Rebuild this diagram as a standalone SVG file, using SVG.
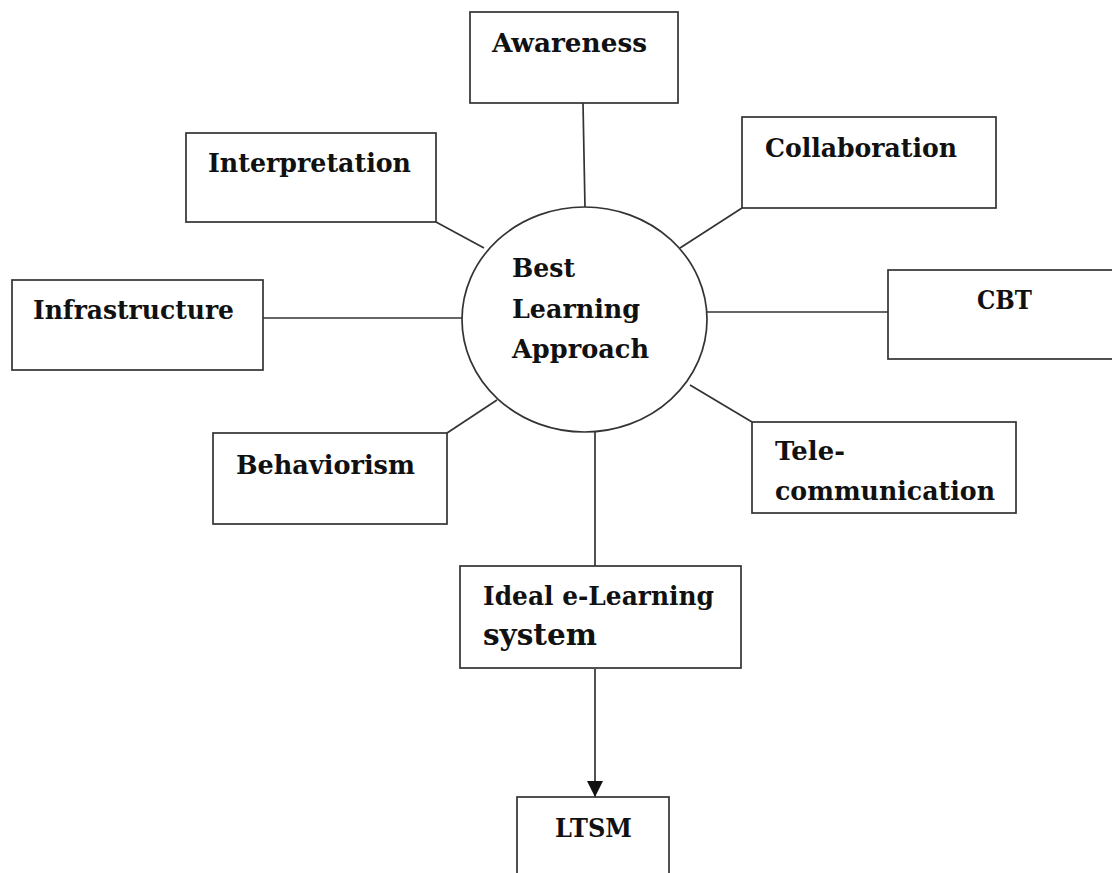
<svg xmlns="http://www.w3.org/2000/svg" width="1112" height="873" viewBox="0 0 1112 873">
<defs>
<style>
.box{fill:#fff;stroke:#333;stroke-width:1.7}
.t{font-family:"DejaVu Serif","Liberation Serif",serif;font-weight:bold;font-size:26px;fill:#111}
.c{stroke:#333;stroke-width:1.7;fill:none}
</style>
<marker id="arr" viewBox="0 0 16 17" refX="16" refY="8" markerWidth="16" markerHeight="17" markerUnits="userSpaceOnUse" orient="auto">
<path d="M0,0 L16,8 L0,16 Z" fill="#111"/>
</marker>
</defs>
<rect width="1112" height="873" fill="#fff"/>
<g id="connectors">
<line class="c" x1="583" y1="103" x2="585" y2="208"/>
<line class="c" x1="742" y1="208" x2="680" y2="248"/>
<line class="c" x1="436" y1="222" x2="484" y2="248"/>
<line class="c" x1="263" y1="318" x2="462" y2="318"/>
<line class="c" x1="707" y1="312" x2="888" y2="312"/>
<line class="c" x1="447" y1="433" x2="497" y2="400"/>
<line class="c" x1="752" y1="422" x2="690" y2="385"/>
<line class="c" x1="595" y1="431" x2="595" y2="566"/>
<line class="c" x1="595" y1="669" x2="595" y2="797" marker-end="url(#arr)"/>
</g>
<g id="center">
<ellipse class="box" cx="584.5" cy="319.5" rx="122.5" ry="112.5"/>
<text class="t" x="512" y="277" textLength="63" lengthAdjust="spacingAndGlyphs">Best</text>
<text class="t" x="512" y="318" textLength="128" lengthAdjust="spacingAndGlyphs">Learning</text>
<text class="t" x="512" y="358" textLength="137" lengthAdjust="spacingAndGlyphs">Approach</text>
</g>
<g id="awareness">
<rect class="box" x="470" y="12" width="208" height="91"/>
<text class="t" x="492" y="52" textLength="155" lengthAdjust="spacingAndGlyphs">Awareness</text>
</g>
<g id="collaboration">
<rect class="box" x="742" y="117" width="254" height="91"/>
<text class="t" x="765" y="157" textLength="192" lengthAdjust="spacingAndGlyphs">Collaboration</text>
</g>
<g id="interpretation">
<rect class="box" x="186" y="133" width="250" height="89"/>
<text class="t" x="208" y="172" textLength="203" lengthAdjust="spacingAndGlyphs">Interpretation</text>
</g>
<g id="infrastructure">
<rect class="box" x="12" y="280" width="251" height="90"/>
<text class="t" x="33" y="319" textLength="201" lengthAdjust="spacingAndGlyphs">Infrastructure</text>
</g>
<g id="cbt">
<rect class="box" x="888" y="270" width="230" height="89"/>
<text class="t" x="977" y="309" textLength="55" lengthAdjust="spacingAndGlyphs">CBT</text>
</g>
<g id="behaviorism">
<rect class="box" x="213" y="433" width="234" height="91"/>
<text class="t" x="236" y="474" textLength="179" lengthAdjust="spacingAndGlyphs">Behaviorism</text>
</g>
<g id="telecommunication">
<rect class="box" x="752" y="422" width="264" height="91"/>
<text class="t" x="775" y="460" textLength="70" lengthAdjust="spacingAndGlyphs">Tele-</text>
<text class="t" x="775" y="500" textLength="220" lengthAdjust="spacingAndGlyphs">communication</text>
</g>
<g id="ideal">
<rect class="box" x="460" y="566" width="281" height="102"/>
<text class="t" x="483" y="605" textLength="231" lengthAdjust="spacingAndGlyphs">Ideal e-Learning</text>
<text class="t" x="483" y="645" style="font-size:30px" textLength="114" lengthAdjust="spacingAndGlyphs">system</text>
</g>
<g id="ltsm">
<rect class="box" x="517" y="797" width="152" height="90"/>
<text class="t" x="555" y="837" textLength="77" lengthAdjust="spacingAndGlyphs">LTSM</text>
</g>
</svg>
